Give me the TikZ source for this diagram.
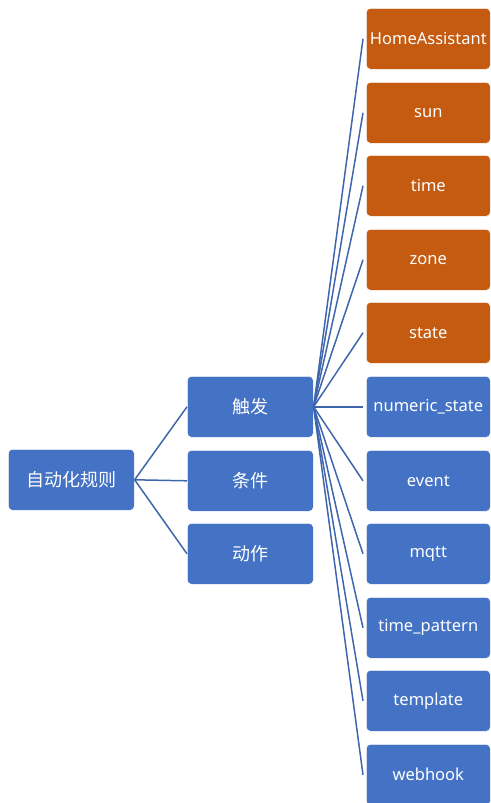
\documentclass[tikz,border=0pt]{standalone}
\usepackage{fontspec}
\setmainfont{Noto Sans}
\newfontfamily\cjk{Noto Sans CJK SC}
\definecolor{boxblue}{HTML}{4472C4}
\definecolor{boxorange}{HTML}{C55A11}
\definecolor{linkblue}{HTML}{3F66AD}
\begin{document}
\begin{tikzpicture}[x=1pt,y=-1pt,
  base/.style={draw=white,line width=0.6pt,rounded corners=4pt,text=white,inner sep=0pt,anchor=north west},
  leafbox/.style={base,fill=boxorange,minimum width=124pt,minimum height=61pt,font=\fontsize{16.5}{18}\selectfont},
  bleafbox/.style={base,fill=boxblue,minimum width=124pt,minimum height=61pt,font=\fontsize{16.5}{18}\selectfont},
  midbox/.style={base,fill=boxblue,minimum width=126pt,minimum height=61pt,font=\cjk\fontsize{18}{20}\selectfont},
  link/.style={draw=linkblue,line width=1.5pt}]
\useasboundingbox (0,0) rectangle (490,803);
\node[midbox,minimum width=126pt] (root) at (8,449) {自动化规则};
\node[midbox] (trig) at (187,376) {触发};
\node[midbox] (cond) at (187,450) {条件};
\node[midbox] (act) at (187,523) {动作};
\node[leafbox] (l1) at (366,8) {HomeAssistant};
\node[leafbox] (l2) at (366,82) {sun};
\node[leafbox] (l3) at (366,155) {time};
\node[leafbox] (l4) at (366,229) {zone};
\node[leafbox] (l5) at (366,302) {state};
\node[bleafbox] (l6) at (366,376) {numeric\_state};
\node[bleafbox] (l7) at (366,450) {event};
\node[bleafbox] (l8) at (366,523) {mqtt};
\node[bleafbox] (l9) at (366,597) {time\_pattern};
\node[bleafbox] (l10) at (366,670) {template};
\node[bleafbox] (l11) at (366,744) {webhook};
\foreach \m in {trig,cond,act}{\draw[link] (root.east) -- (\m.west);}
\foreach \i in {1,...,11}{\draw[link] (trig.east) -- ([xshift=-3pt]l\i.west);}
\end{tikzpicture}
\end{document}
